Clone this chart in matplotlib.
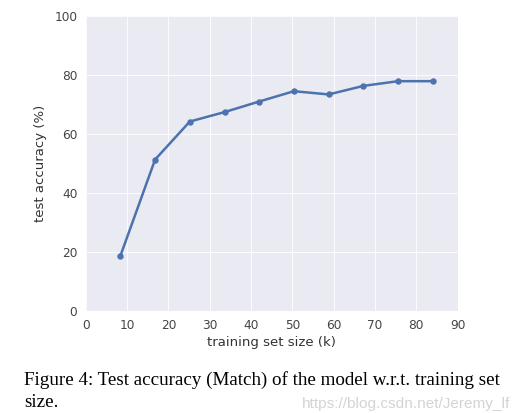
import matplotlib
matplotlib.use("Agg")
import matplotlib.pyplot as plt

# training set size (k) vs test accuracy (%)
train_size = [8.4, 16.8, 25.2, 33.6, 42.0, 50.4, 58.8, 67.2, 75.6, 84.0]
test_acc = [18.6, 51.3, 64.2, 67.4, 71.0, 74.5, 73.4, 76.3, 77.9, 77.9]
x_ticks = [0, 10, 20, 30, 40, 50, 60, 70, 80, 90]
y_ticks = [0, 20, 40, 60, 80, 100]

fig = plt.figure(figsize=(5.29, 4.13), dpi=100)
ax = fig.add_axes([0.162, 0.248, 0.703, 0.713])
ax.set_facecolor("#EAEAF2")
ax.grid(True, color="white", linewidth=0.8, alpha=0.85)
ax.set_axisbelow(True)
for s in ax.spines.values():
    s.set_visible(False)

ax.plot(train_size, test_acc, color="#4C72B0", linewidth=1.8, marker="o", markersize=3.6)

ax.set_xlim(0, 90)
ax.set_ylim(0, 100)
ax.set_xticks(x_ticks)
ax.set_yticks(y_ticks)
ax.tick_params(length=0, labelsize=8.7, labelcolor="#444444", pad=6)
ax.set_xlabel("training set size (k)", fontsize=9.5, color="#333333", labelpad=3)
ax.set_ylabel("test accuracy (%)", fontsize=9.5, color="#333333", labelpad=5)

fig.text(0.045, 0.08, "Figure 4: Test accuracy (Match) of the model w.r.t. training set",
         family="Liberation Serif", fontsize=13.7, color="black", va="center")
fig.text(0.045, 0.025, "size.", family="Liberation Serif", fontsize=13.7, color="black", va="center")
fig.text(0.571, 0.022, "https://blog.csdn.net/Jeremy_lf", family="Liberation Sans",
         fontsize=11.1, color="#d4d4d4", va="center")

fig.savefig("out.png", dpi=100)
